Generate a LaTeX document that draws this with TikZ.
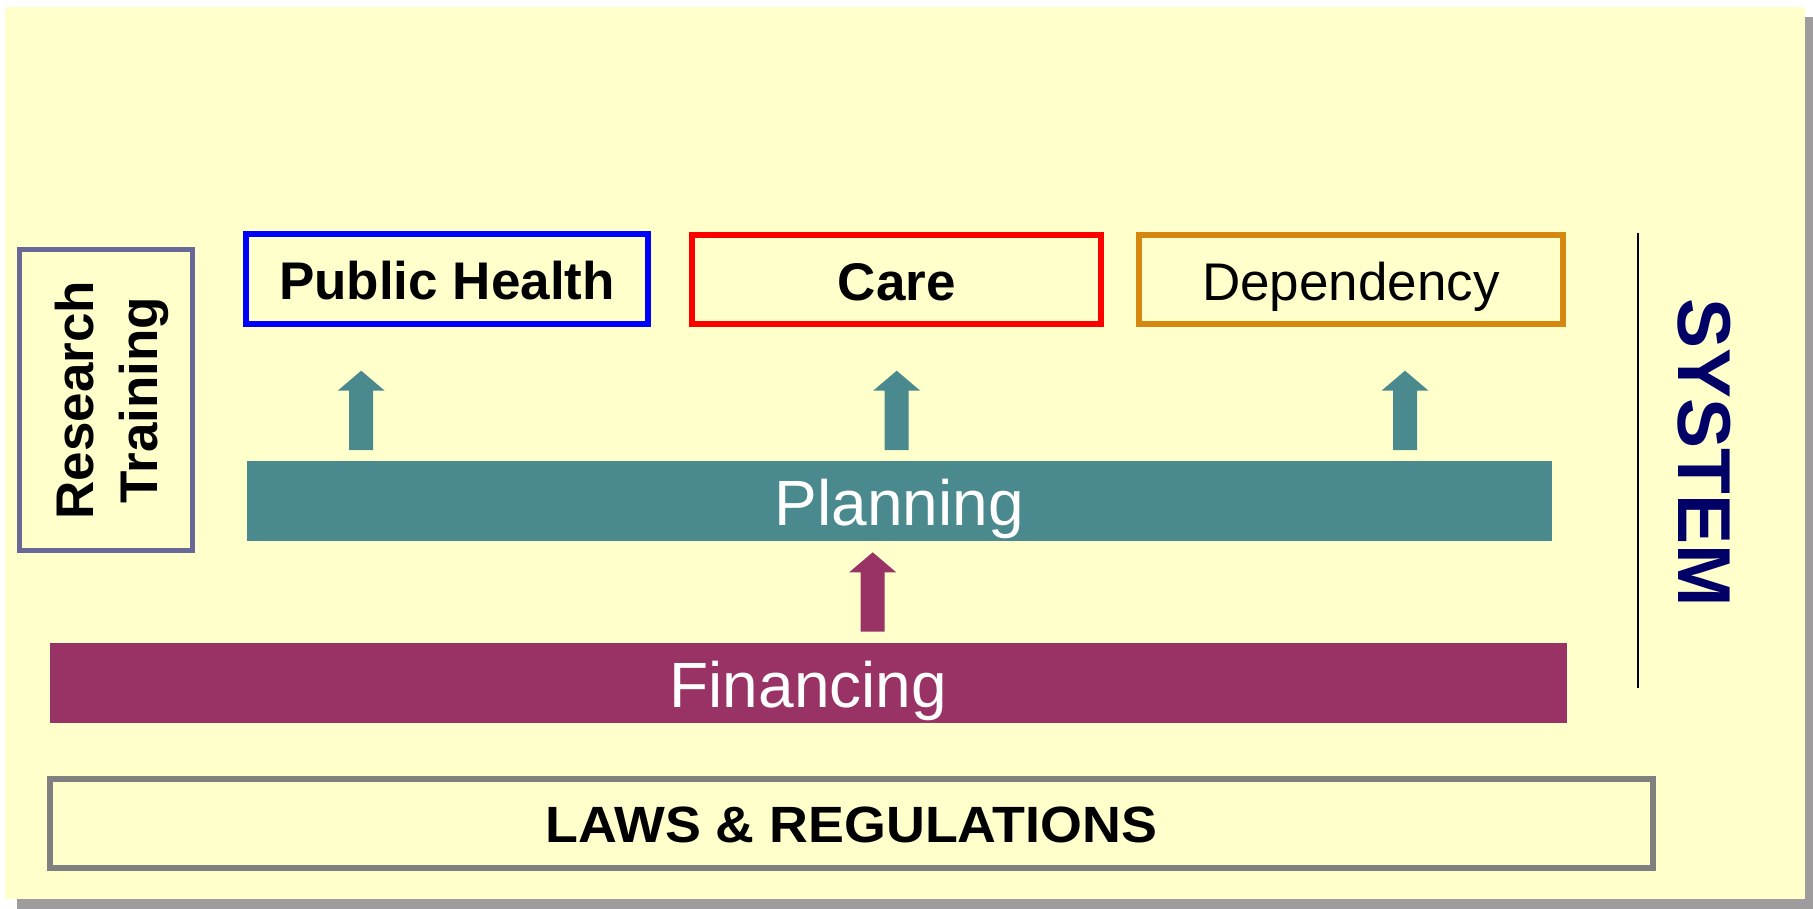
\documentclass[tikz,border=0pt]{standalone}
\usepackage{fontspec}
\setmainfont{Liberation Sans}
\usetikzlibrary{calc}
\definecolor{bgyellow}{HTML}{FFFFCC}
\definecolor{shadowgray}{HTML}{9E9C9C}
\definecolor{rtframe}{HTML}{686898}
\definecolor{depframe}{HTML}{D4880F}
\definecolor{teal}{HTML}{4A898E}
\definecolor{plum}{HTML}{993366}
\definecolor{lawgray}{HTML}{808080}
\definecolor{navy}{HTML}{000066}
\newcommand{\blockup}[3]{%
  \fill[#1] let \p1=(#2), \p2=(#3) in
    (\x1-12pt,\y1) -- (\x1+12pt,\y1) -- (\x1+12pt,\y2-20pt) --
    (\x1+23.5pt,\y2-20pt) -- (\x2,\y2) -- (\x1-23.5pt,\y2-20pt) --
    (\x1-12pt,\y2-20pt) -- cycle;}
\begin{document}
\begin{tikzpicture}[x=1pt,y=-1pt,
  topbox/.style={draw, line width=6pt, fill=none, inner sep=0pt,
    text height=42pt, text depth=0pt,
    font=\fontsize{53}{64}\selectfont},
  bar/.style={inner sep=0pt, text=white, text height=48.3pt, text depth=0pt,
    font=\fontsize{64}{77}\selectfont}]
\useasboundingbox (0,0) rectangle (1813,909);
% shadow and background
\fill[shadowgray] (17,17) rectangle (1813,909);
\fill[bgyellow] (5,7) rectangle (1805,899);
% Research / Training
\node[draw=rtframe, line width=5pt, minimum width=173pt, minimum height=301pt, inner sep=0pt] (rt) at (106,400) {};
\node[rotate=90, align=center, inner sep=0pt, font=\fontsize{53}{64}\selectfont\bfseries] (rtlabel) at (112,400) {Research\\Training};
% top boxes
\node[topbox, draw=blue, minimum width=401.4pt, minimum height=89.7pt, font=\fontsize{53}{64}\selectfont\bfseries] (ph) at (447,278.85) {Public Health};
\node[topbox, draw=red, minimum width=409.3pt, minimum height=89pt, font=\fontsize{53}{64}\selectfont\bfseries] (care) at (896.7,279.2) {Care};
\node[topbox, draw=depframe, minimum width=423.7pt, minimum height=89pt] (dep) at (1350.85,279.2) {Dependency};
% bars
\node[bar, fill=teal, minimum width=1305pt, minimum height=79.7pt] (plan) at (899.2,500.85) {Planning};
\node[bar, fill=plum, minimum width=1516.7pt, minimum height=79.7pt] (fin) at (808.3,682.85) {Financing};
% laws
\node[draw=lawgray, line width=6pt, minimum width=1603.3pt, minimum height=89pt, inner sep=0pt,
  text height=38.2pt, text depth=0pt, font=\fontsize{51}{61}\selectfont\bfseries] (laws) at (851.35,823.2) {\scalebox{1.055}[1]{LAWS \& REGULATIONS}};
% SYSTEM
\node[rotate=-90, inner sep=0pt, text=navy, text height=54pt, text depth=0pt,
  font=\fontsize{75}{90}\selectfont\bfseries] (sys) at (1705,452.5) {SYSTEM};
\coordinate (lineTop) at (1638,233);
\coordinate (lineBot) at (1638,688);
\draw[line width=2pt] (lineTop) -- (lineBot);
% arrows
\coordinate (a1s) at (361.2,450);  \coordinate (a1e) at (361.2,370.7);
\coordinate (a2s) at (896.7,450);  \coordinate (a2e) at (896.7,370.7);
\coordinate (a3s) at (1405,450);   \coordinate (a3e) at (1405,370.7);
\coordinate (a4s) at (872.7,631.7); \coordinate (a4e) at (872.7,552.3);
\blockup{teal}{a1s}{a1e}
\blockup{teal}{a2s}{a2e}
\blockup{teal}{a3s}{a3e}
\blockup{plum}{a4s}{a4e}
\end{tikzpicture}
\end{document}
